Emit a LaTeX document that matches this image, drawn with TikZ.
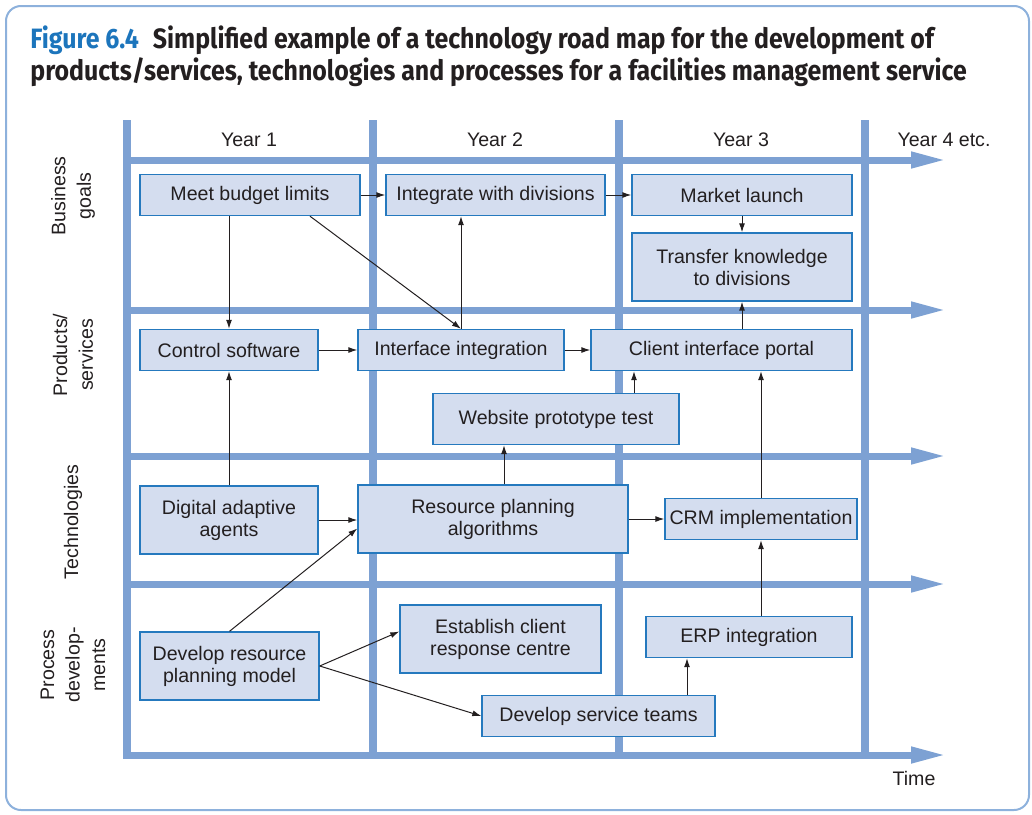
\documentclass[tikz,border=0pt]{standalone}
\usepackage{fontspec}
\setmainfont{Liberation Sans}
\newfontfamily\titlefont[FakeStretch=0.89]{Fira Sans}
\usepackage{xcolor}
\usetikzlibrary{arrows.meta,calc}
\definecolor{rmGrid}{HTML}{7DA1D3}
\definecolor{rmFill}{HTML}{D4DDEF}
\definecolor{rmEdge}{HTML}{2579BE}
\definecolor{rmText}{HTML}{231F20}
\definecolor{rmTitle}{HTML}{1C75BC}
\definecolor{rmFrame}{HTML}{8DB1DC}

\begin{document}
\begin{tikzpicture}[
  x=0.5pt, y=-0.5pt,
  font=\fontsize{9.8}{11}\selectfont, text=rmText,
  task/.style={
    draw=rmEdge, line width=0.7pt, fill=rmFill,
    align=center, inner sep=1pt, minimum height=20.5pt
  },
  tall/.style={task, minimum height=34pt},
  lane/.style={draw=rmGrid, line width=3.5pt, -{Triangle[length=18pt,width=7.5pt]}},
  yearline/.style={draw=rmGrid, line width=4pt},
  link/.style={-{Latex[length=4.5pt,width=3pt]}, draw=rmText, line width=0.5pt},
  rowlbl/.style={rotate=90, align=center, font=\fontsize{9.8}{12.8}\selectfont},
  ttl/.style={anchor=base west, inner sep=0pt, text=rmText,
    font=\titlefont\bfseries\fontsize{14}{16}\selectfont}
]
\useasboundingbox (0,0) rectangle (1032,814);

% ---- frame and title ------------------------------------------------------
\draw[rmFrame, line width=1pt, rounded corners=7.5pt] (6,6) rectangle (1029,810);
\node[ttl] (title1) at (30,48) {\textcolor{rmTitle}{Figure 6.4}\hspace{0.5em}Simplified example of a technology road map for the development of};
\node[ttl] (title2) at (30,80) {products/services, technologies and processes for a facilities management service};

% ---- grid -----------------------------------------------------------------
\foreach \yy in {160,310,456,584,755}
  \draw[lane] (123,\yy) -- (947,\yy);
\foreach \xx in {127,373,619,865}
  \draw[yearline] (\xx,120) -- (\xx,758.5);

\node (y1) at (249,140) {Year 1};
\node (y2) at (495,140) {Year 2};
\node (y3) at (741,140) {Year 3};
\node (y4) at (944,140) {Year 4 etc.};
\node (time) at (914,778) {Time};

\node[rowlbl] (rgoals) at (73,196) {Business\\goals};
\node[rowlbl] (rprod)  at (73,355) {Products/\\services};
\node[rowlbl] (rtech)  at (73,522) {Technologies};
\node[rowlbl] (rproc)  at (73,665) {Process\\develop-\\ments};

% ---- tasks ----------------------------------------------------------------
\node[task, minimum width=110pt]   (meet)   at (250,195)   {Meet budget limits};
\node[task, minimum width=109.5pt] (integ)  at (495.5,195) {Integrate with divisions};
\node[task, minimum width=110pt]   (market) at (742,195)   {Market launch};
\node[tall, minimum width=110pt]   (trans)  at (742,267)   {Transfer knowledge\\to divisions};

\node[task, minimum width=89pt]    (ctrl)   at (229,350) {Control software};
\node[task, minimum width=103pt]   (iface)  at (461,350) {Interface integration};
\node[task, minimum width=130.5pt] (client) at (721.5,350) {Client interface portal};
\node[task, minimum width=123pt, minimum height=25.5pt] (web) at (556,419) {Website prototype test};

\node[tall, minimum width=89pt]    (dig)    at (229,520)   {Digital adaptive\\agents};
\node[tall, minimum width=135pt]   (res)    at (493,519) {Resource planning\\algorithms};
\node[task, minimum width=96pt]    (crm)    at (761,519) {CRM implementation};

\node[tall, minimum width=89.5pt]  (model)  at (229.5,666) {Develop resource\\planning model};
\node[tall, minimum width=100.5pt] (estab)  at (500.5,639) {Establish client\\response centre};
\node[task, minimum width=103pt]   (erp)    at (749,637) {ERP integration};
\node[task, minimum width=116.5pt] (serv)   at (598.5,716) {Develop service teams};

% ---- links ----------------------------------------------------------------
\coordinate (meetfoot) at ([xshift=30pt]meet.south);
\coordinate (webtop)   at ([xshift=39pt]web.north);
\coordinate (restop)   at ([xshift=5.5pt]res.north);
\coordinate (servtop)  at ([xshift=44.25pt]serv.north);

\draw[link] (meet.east) -- (integ.west);
\draw[link] (integ.east) -- (market.west);
\draw[link] (market.south) -- (trans.north);
\draw[link] (ctrl.north |- meet.south) -- (ctrl.north);
\draw[link] (meetfoot) -- (iface.north);
\draw[link] (iface.north) -- (iface.north |- integ.south);

\draw[link] (ctrl.east) -- (iface.west);
\draw[link] (iface.east) -- (client.west);
\draw[link] (trans.south |- client.north) -- (trans.south);
\draw[link] (webtop) -- (webtop |- client.south);

\draw[link] (dig.north) -- (ctrl.south);
\draw[link] (restop) -- (restop |- web.south);
\draw[link] (dig.east) -- (dig.east -| res.west);
\draw[link] (model.north) -- ([yshift=-4.75pt]res.west);
\draw[link] (res.east) -- (res.east -| crm.west);
\draw[link] (crm.north) -- (crm.north |- client.south);
\draw[link] (crm.south |- erp.north) -- (crm.south);

\draw[link] (model.east) -- ([yshift=3.75pt]estab.west);
\draw[link] (model.east) -- (serv.west);
\draw[link] (servtop) -- (servtop |- erp.south);

\end{tikzpicture}
\end{document}
